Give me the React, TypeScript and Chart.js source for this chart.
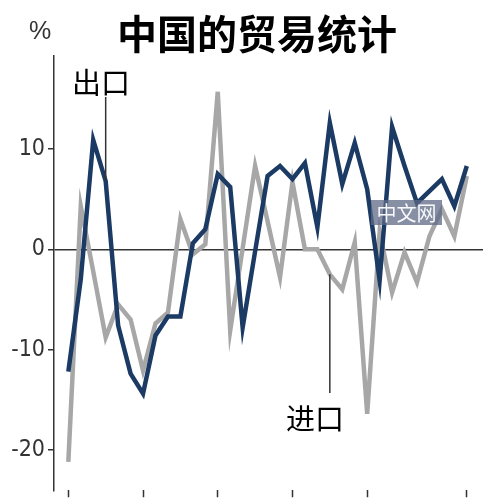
import React, { useEffect, useRef } from "react";
import { Chart, registerables } from "chart.js";

Chart.register(...registerables);

// Monthly year-on-year change, %
const exportsPct = [
  -12.2, -3.0, 10.9, 6.8, -7.6, -12.4, -14.4, -8.6, -6.7, -6.7, 0.6, 2.0,
  7.5, 6.2, -7.8, -0.2, 7.3, 8.3, 7.0, 8.6, 2.2, 12.6, 6.5, 10.6,
  6.0, -3.1, 12.2, 8.3, 4.6, 5.8, 7.0, 4.3, 8.3,
];
const importsPct = [
  -21.2, 4.3, -2.2, -8.8, -5.5, -7.0, -12.1, -7.4, -6.3, 3.0, -0.5, 0.5,
  15.7, -8.1, 0.1, 8.3, 2.8, -2.8, 6.7, 0.0, 0.0, -2.5, -4.0, 0.7,
  -16.4, 1.7, -4.3, -0.3, -3.3, 1.3, 4.0, 1.3, 7.3,
];
const xTickIndices = [0, 6, 12, 18, 24, 32];
const yTickValues = [-20, -10, 0, 10];
const titleText = "中国的贸易统计";
const unitText = "%";
const exportLabel = "出口";
const importLabel = "进口";
const exportLabelIndex = 3;
const importLabelIndex = 21;

const NAVY = "#1b3a64";
const GRAY = "#a7a7a7";
const AXIS = "#333333";

export default function App() {
  const canvasRef = useRef<HTMLCanvasElement | null>(null);

  useEffect(() => {
    if (!canvasRef.current) return;

    const leaders = {
      id: "leaders",
      afterDatasetsDraw(chart: any) {
        const { ctx, scales } = chart;
        const xs = scales.x;
        const ys = scales.y;
        ctx.save();
        ctx.strokeStyle = AXIS;
        ctx.lineWidth = 1.5;
        const ex = xs.getPixelForValue(exportLabelIndex);
        const ey = ys.getPixelForValue(exportsPct[exportLabelIndex]);
        ctx.beginPath();
        ctx.moveTo(ex, 97);
        ctx.lineTo(ex, ey);
        ctx.stroke();
        const ix = xs.getPixelForValue(importLabelIndex);
        const iy = ys.getPixelForValue(importsPct[importLabelIndex]);
        ctx.beginPath();
        ctx.moveTo(ix, iy);
        ctx.lineTo(ix, 393);
        ctx.stroke();
        ctx.restore();
      },
    };

    const chart = new Chart(canvasRef.current, {
      type: "line",
      data: {
        datasets: [
          {
            label: exportLabel,
            data: exportsPct.map((v, i) => ({ x: i, y: v })),
            borderColor: NAVY,
            borderWidth: 4.5,
            pointRadius: 0,
            tension: 0,
            borderJoinStyle: "miter",
          },
          {
            label: importLabel,
            data: importsPct.map((v, i) => ({ x: i, y: v })),
            borderColor: GRAY,
            borderWidth: 4.5,
            pointRadius: 0,
            tension: 0,
            borderJoinStyle: "miter",
          },
        ],
      },
      options: {
        animation: false,
        responsive: false,
        maintainAspectRatio: false,
        layout: { padding: { top: 56, right: 17, left: 0, bottom: 0 } },
        plugins: {
          legend: { display: false },
          tooltip: { enabled: false },
          title: { display: false },
        },
        scales: {
          x: {
            type: "linear",
            min: -1.15,
            max: 33.3,
            afterBuildTicks: (scale: any) => {
              scale.ticks = xTickIndices.map((v) => ({ value: v }));
            },
            afterFit: (scale: any) => {
              scale.height = 7;
            },
            ticks: { callback: () => "", padding: 0 },
            grid: {
              drawOnChartArea: false,
              drawTicks: true,
              tickLength: 7,
              tickColor: AXIS,
              tickWidth: 1.5,
            },
            border: { display: false },
          },
          y: {
            type: "linear",
            min: -24.03,
            max: 19.27,
            afterBuildTicks: (scale: any) => {
              scale.ticks = yTickValues.map((v) => ({ value: v }));
            },
            afterFit: (scale: any) => {
              scale.width = 54;
            },
            ticks: {
              color: AXIS,
              padding: 3,
              font: {
                family: "'Liberation Sans Narrow', 'DejaVu Sans Condensed', sans-serif",
                size: 23,
                lineHeight: 0.5,
              },
              callback: (v: any) => String(v),
            },
            grid: {
              drawOnChartArea: true,
              color: (ctx: any) => (ctx.tick && ctx.tick.value === 0 ? AXIS : "rgba(0,0,0,0)"),
              lineWidth: 1.5,
              tickLength: 6,
              tickColor: AXIS,
              tickWidth: 1.5,
            },
            border: { display: true, color: AXIS, width: 1.5 },
          },
        },
      },
      plugins: [leaders],
    } as any);

    return () => chart.destroy();
  }, []);

  return (
    <div
      style={{
        position: "fixed",
        left: 0,
        top: 0,
        width: 500,
        height: 499,
        background: "#ffffff",
        overflow: "hidden",
      }}
    >
      <canvas ref={canvasRef} width={500} height={499} style={{ display: "block" }} />
      <div
        style={{
          position: "absolute",
          left: 0,
          width: 514,
          top: 10,
          textAlign: "center",
          fontFamily: "'Noto Sans CJK SC', sans-serif",
          fontWeight: 700,
          fontSize: 40,
          lineHeight: "44px",
          color: "#000",
        }}
      >
        {titleText}
      </div>
      <div
        style={{
          position: "absolute",
          left: 29,
          top: 15,
          fontFamily: "'Liberation Sans', sans-serif",
          fontSize: 25,
          lineHeight: "30px",
          color: AXIS,
        }}
      >
        {unitText}
      </div>
      <div
        style={{
          position: "absolute",
          left: 72,
          top: 63,
          fontFamily: "'Noto Sans CJK SC', sans-serif",
          fontSize: 29,
          lineHeight: "36px",
          color: "#000",
        }}
      >
        {exportLabel}
      </div>
      <div
        style={{
          position: "absolute",
          left: 286,
          top: 399,
          fontFamily: "'Noto Sans CJK SC', sans-serif",
          fontSize: 29,
          lineHeight: "36px",
          color: "#000",
        }}
      >
        {importLabel}
      </div>
      <div
        style={{
          position: "absolute",
          left: 371,
          top: 200,
          width: 71,
          height: 25,
          background: "rgba(95,105,135,0.75)",
          color: "rgba(255,255,255,0.95)",
          fontFamily: "'Noto Sans CJK SC', sans-serif",
          fontSize: 20,
          lineHeight: "25px",
          textAlign: "center",
        }}
      >
        中文网
      </div>
    </div>
  );
}
